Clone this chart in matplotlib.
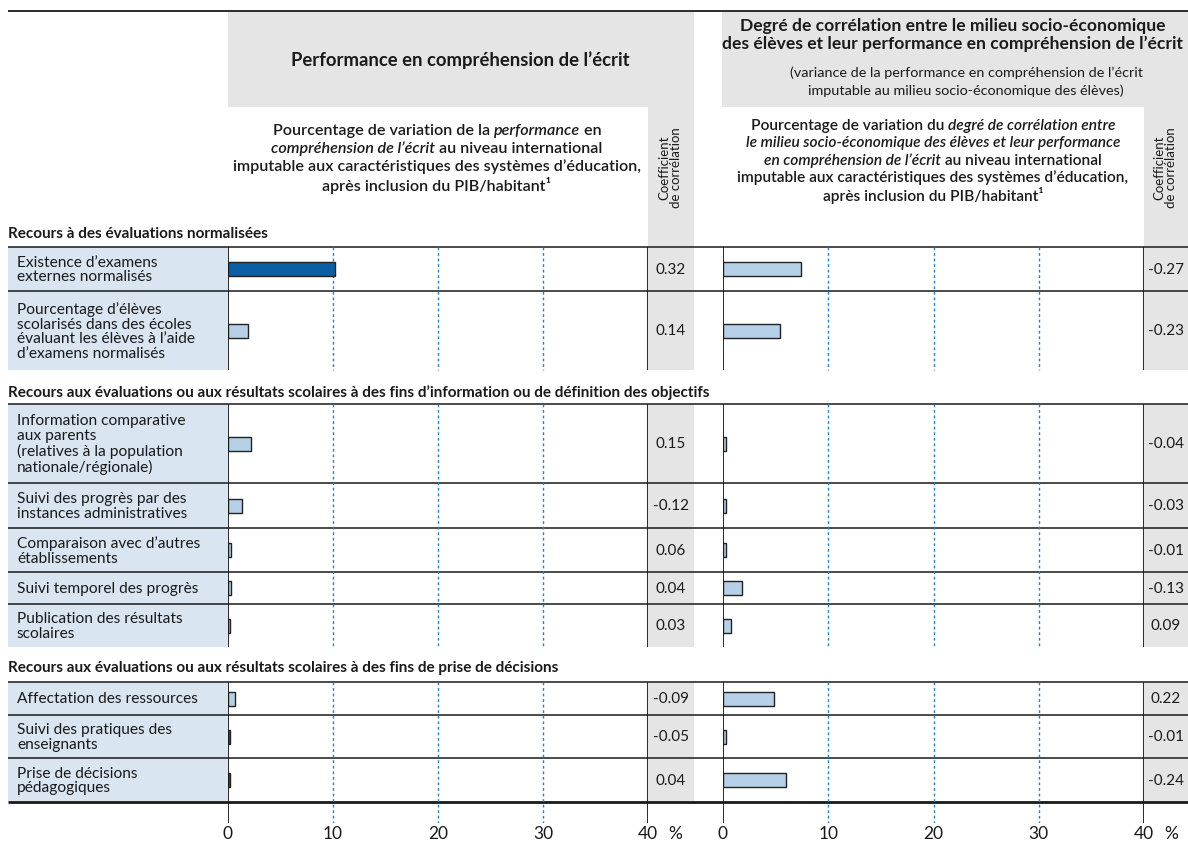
import matplotlib.pyplot as plt
from matplotlib.patches import Rectangle

plt.rcParams['font.family'] = ['Lato', 'DejaVu Sans']

# ---- données ----
sections = ['Recours à des évaluations normalisées',
            'Recours aux évaluations ou aux résultats scolaires à des fins d’information ou de définition des objectifs',
            'Recours aux évaluations ou aux résultats scolaires à des fins de prise de décisions']
labels = ['Existence d’examens\nexternes normalisés',
          'Pourcentage d’élèves\nscolarisés dans des écoles\névaluant les élèves à l’aide\nd’examens normalisés',
          'Information comparative\naux parents\n(relatives à la population\nnationale/régionale)',
          'Suivi des progrès par des\ninstances administratives',
          'Comparaison avec d’autres\nétablissements',
          'Suivi temporel des progrès',
          'Publication des résultats\nscolaires',
          'Affectation des ressources',
          'Suivi des pratiques des\nenseignants',
          'Prise de décisions\npédagogiques']
section_rows = [[0, 1], [2, 3, 4, 5, 6], [7, 8, 9]]
perf_values = [10.2, 1.9, 2.2, 1.3, 0.3, 0.25, 0.2, 0.7, 0.2, 0.2]
perf_signif = [True, False, False, False, False, False, False, False, True, True]
perf_coef = ['0.32', '0.14', '0.15', '-0.12', '0.06', '0.04', '0.03', '-0.09', '-0.05', '0.04']
socio_values = [7.4, 5.4, 0.25, 0.25, 0.25, 1.8, 0.8, 4.8, 0.25, 6.0]
socio_signif = [False] * 10
socio_coef = ['-0.27', '-0.23', '-0.04', '-0.03', '-0.01', '-0.13', '0.09', '0.22', '-0.01', '-0.24']
ticks = [0, 10, 20, 30, 40]

# ---- mise en page (pixels) ----
W, H = 1188, 845
title_y = [234, 393, 668]
row_edges = [[248, 292, 371], [405, 484, 529, 573, 605, 648], [683, 716, 759, 803]]
axis_bottom = 824
GRAY = '#e4e5e4'
LBLUE = '#d9e5f1'
DARK = '#0b5fa5'
LIGHT = '#b5d0e7'
GRID = '#2b7ec0'
TXT = '#1a1a1a'

fig = plt.figure(figsize=(11.88, 8.45), dpi=100)
bg = fig.add_axes([0, 0, 1, 1])
bg.set_xlim(0, W)
bg.set_ylim(H, 0)
bg.axis('off')


def px_axes(x0, x1, y0, y1):
    return fig.add_axes([x0 / W, 1 - y1 / H, (x1 - x0) / W, (y1 - y0) / H])


def rich_line(cx, y, parts, size, weight='normal'):
    # ligne centrée avec des morceaux en italique
    r = fig.canvas.get_renderer()
    txts = [bg.text(0, y, s, fontsize=size, fontweight=weight, style=st,
                    ha='left', va='center', color=TXT) for s, st in parts]
    ws = [t.get_window_extent(r).width for t in txts]
    x = cx - sum(ws) / 2
    for t, w in zip(txts, ws):
        t.set_x(x)
        x += w


panels = [dict(x0=228, x1=648, cx1=694, hx0=228, vals=perf_values, sig=perf_signif, coef=perf_coef),
          dict(x0=723, x1=1144, cx1=1188, hx0=722, vals=socio_values, sig=socio_signif, coef=socio_coef)]

# ligne du haut
bg.hlines(12, 8, W, color=TXT, lw=1.3)

# en-têtes gris
for p in panels:
    bg.add_patch(Rectangle((p['hx0'], 13), p['cx1'] - p['hx0'], 95, color=GRAY, lw=0))
    bg.add_patch(Rectangle((p['x1'], 108), p['cx1'] - p['x1'], row_edges[0][-1] - 108, color=GRAY, lw=0))
    for edges in row_edges[1:]:
        bg.add_patch(Rectangle((p['x1'], edges[0]), p['cx1'] - p['x1'], edges[-1] - edges[0], color=GRAY, lw=0))
    cxc = (p['x1'] + p['cx1']) / 2
    bg.text(cxc - 1, 168, 'Coefficient\nde corrélation', rotation=90, ha='center', va='center',
            fontsize=9.5, color=TXT, linespacing=0.95)

bg.text(460, 60, 'Performance en compréhension de l’écrit', ha='center', va='center',
        fontsize=13.3, fontweight='bold', color=TXT)
bg.text(953, 26, 'Degré de corrélation entre le milieu socio-économique', ha='center', va='center',
        fontsize=12.6, fontweight='bold', color=TXT)
bg.text(953, 44, 'des élèves et leur performance en compréhension de l’écrit', ha='center', va='center',
        fontsize=12.6, fontweight='bold', color=TXT)
bg.text(966, 73, '(variance de la performance en compréhension de l’écrit', ha='center', va='center',
        fontsize=10.4, color=TXT)
bg.text(966, 91, 'imputable au milieu socio-économique des élèves)', ha='center', va='center',
        fontsize=10.4, color=TXT)

N, I = 'normal', 'italic'
left_sub = [[('Pourcentage de variation de la ', N), ('performance', I), (' en', N)],
            [('compréhension de l’écrit', I), (' au niveau international', N)],
            [('imputable aux caractéristiques des systèmes d’éducation,', N)],
            [('après inclusion du PIB/habitant¹', N)]]
right_sub = [[('Pourcentage de variation du ', N), ('degré de corrélation entre', I)],
             [('le milieu socio-économique des élèves et leur performance', I)],
             [('en compréhension de l’écrit', I), (' au niveau international', N)],
             [('imputable aux caractéristiques des systèmes d’éducation,', N)],
             [('après inclusion du PIB/habitant¹', N)]]
for k, parts in enumerate(left_sub):
    rich_line(437, 131 + 18 * k, parts, 11.6, 'semibold')
for k, parts in enumerate(right_sub):
    rich_line(933, 126 + 17.3 * k, parts, 11.2, 'semibold')

# sections, libellés, lignes
for s, (title, rows, edges, ty) in enumerate(zip(sections, section_rows, row_edges, title_y)):
    bg.text(8, ty, title, ha='left', va='center', fontsize=11, fontweight='bold', color=TXT)
    for j, i in enumerate(rows):
        y0, y1 = edges[j], edges[j + 1]
        bg.add_patch(Rectangle((8, y0), 220, y1 - y0, color=LBLUE, lw=0))
        bg.text(17, (y0 + y1) / 2, labels[i], ha='left', va='center', fontsize=11.2,
                color=TXT, linespacing=1.07)
        for p in panels:
            bg.text((p['x1'] + p['cx1']) / 2, (y0 + y1) / 2, p['coef'][i], ha='center',
                    va='center', fontsize=11, color=TXT)
    line_edges = edges if s == len(sections) - 1 else edges[:-1]
    for y in line_edges:
        bg.hlines(y, 8, W, color=TXT, lw=2 if y == 803 else 1.1)

# barres
for p in panels:
    ax = px_axes(p['x0'], p['x1'], row_edges[0][0], axis_bottom)
    ax.patch.set_alpha(0)
    ax.set_xlim(0, 40)
    ax.set_ylim(axis_bottom, row_edges[0][0])
    for sp in ax.spines.values():
        sp.set_visible(False)
    for s, (rows, edges) in enumerate(zip(section_rows, row_edges)):
        ybot = axis_bottom if s == len(section_rows) - 1 else edges[-1]
        ax.vlines([0, 40], edges[0], ybot, color=TXT, lw=1.3, zorder=3)
        ax.vlines([10, 20, 30], edges[0], ybot, color=GRID, lw=1, linestyles=(0, (2, 2)), zorder=1)
        centers = [(edges[j] + edges[j + 1]) / 2 for j in range(len(rows))]
        ax.barh(centers, [p['vals'][i] for i in rows], height=14,
                color=[DARK if p['sig'][i] else LIGHT for i in rows],
                edgecolor='#222222', lw=1, zorder=2)
    ax.set_xticks(ticks)
    ax.set_xticklabels([str(t) for t in ticks])
    ax.tick_params(axis='x', length=0, pad=1.5, labelsize=12.5, labelcolor=TXT)
    ax.tick_params(axis='y', left=False, labelleft=False)
    bg.text(p['x1'] + 27, 834, '%', ha='center', va='center', fontsize=12.5, color=TXT)

fig.savefig('out.png', dpi=100)
